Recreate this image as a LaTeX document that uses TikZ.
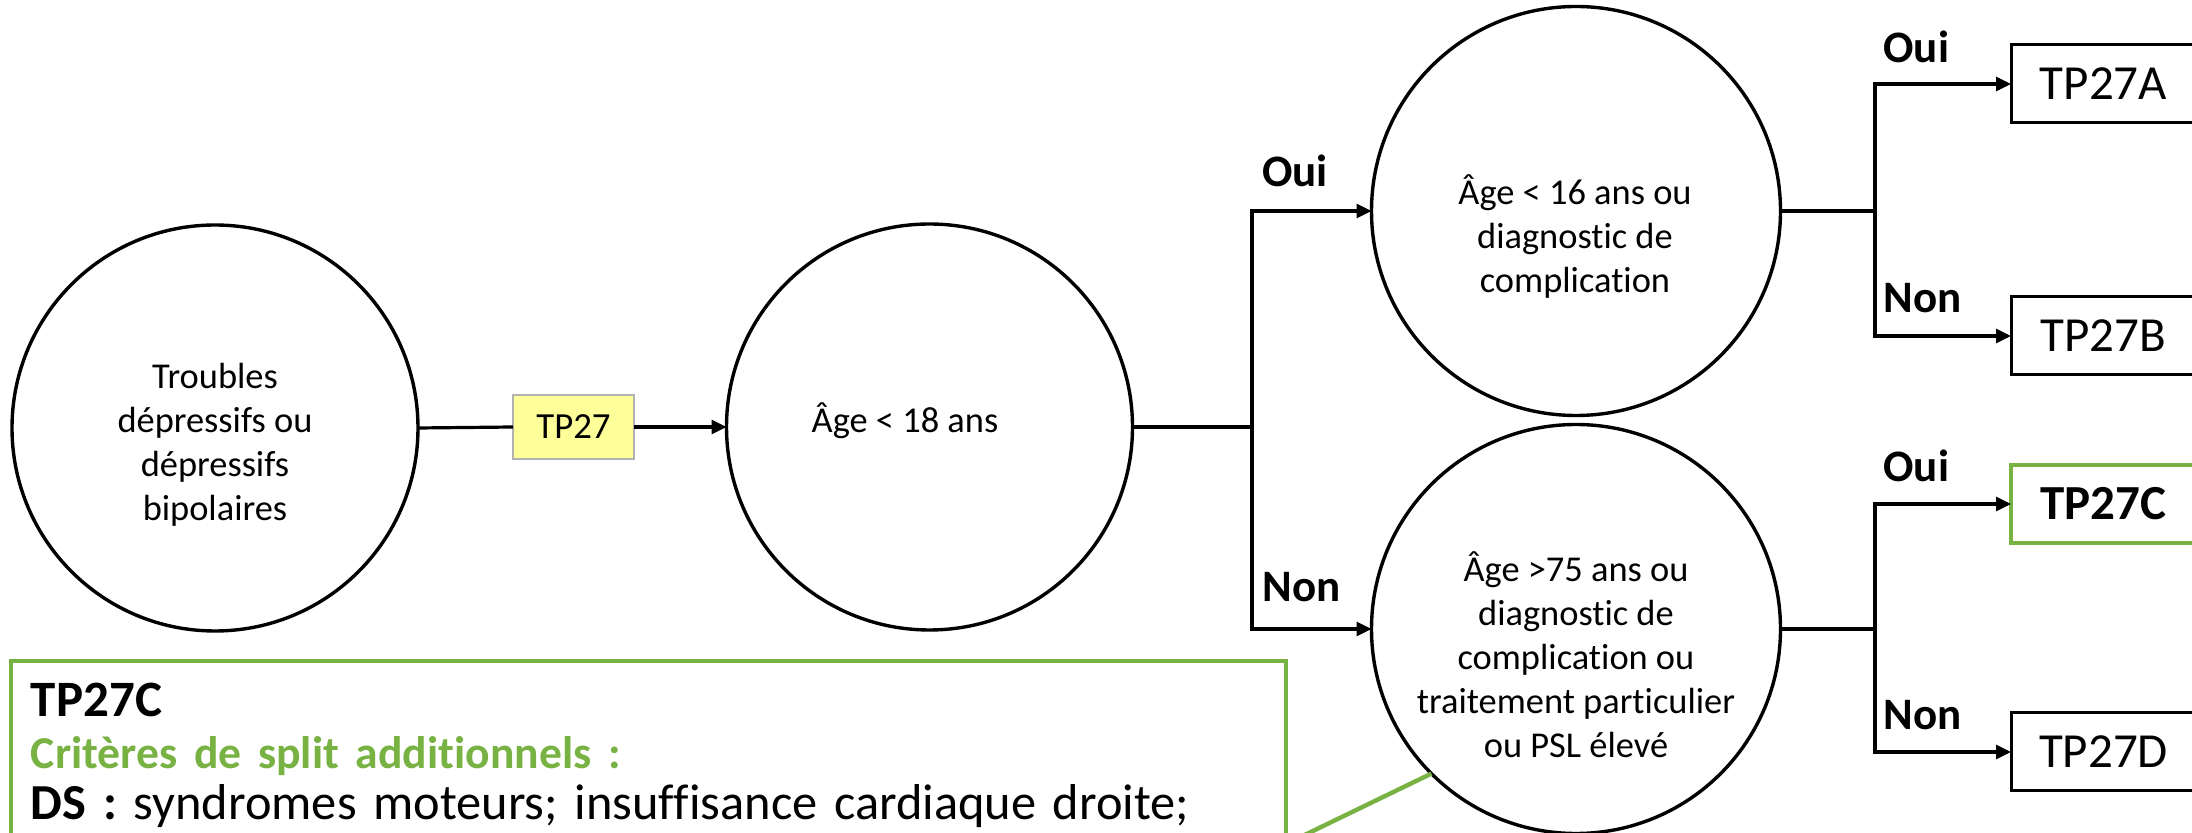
\documentclass[tikz,border=0pt]{standalone}
\usepackage{fontspec}
\setmainfont{Carlito}[Ligatures=NoCommon]
\newfontfamily\notefont{Carlito}[Ligatures=NoCommon,WordSpace=0.75]
\usetikzlibrary{arrows.meta}
\definecolor{gr}{HTML}{78B243}
\definecolor{yel}{HTML}{FFFF99}
\begin{document}
\begin{tikzpicture}[x=0.5pt,y=-0.5pt,
  circ/.style={circle,draw,line width=1.7pt,inner sep=0pt,outer sep=0pt},
  ctext/.style={font=\fontsize{18.2}{22}\selectfont,align=center,inner sep=0pt},
  lab/.style={font=\fontsize{22.5}{27}\selectfont\bfseries,anchor=base west,inner sep=0pt},
  outbox/.style={draw,line width=1.5pt,minimum width=92.5pt,minimum height=39pt,anchor=west,outer sep=0pt,inner sep=0pt,font=\fontsize{24.5}{29}\selectfont},
  conn/.style={line width=1.6pt},
  arr/.style={conn,-{Triangle[length=7.5pt,width=7pt]}}
]
\clip (0,0) rectangle (2192,833);
\fill[white] (0,0) rectangle (2192,833);

% circles
\node[circ,minimum size=203pt] (c1) at (215,428) {};
\node[ctext] (t1) at (215,445) {Troubles\\dépressifs ou\\dépressifs\\bipolaires};
\node[circ,minimum size=203pt] (c2) at (929.5,427) {};
\node[ctext,anchor=base] (t2) at (905,433) {Âge < 18 ans};
\node[circ,minimum size=204.5pt] (c3) at (1576,211) {};
\node[ctext] (t3) at (1575,237) {Âge < 16 ans ou\\diagnostic de\\complication};
\node[circ,minimum size=204.5pt] (c4) at (1576,629) {};
\node[ctext] (t4) at (1576,655) {Âge >75 ans ou\\diagnostic de\\complication ou\\traitement particulier\\ou PSL élevé};

% yellow box
\node[draw=gray!60,fill=yel,line width=1pt,minimum width=60.5pt,minimum height=32pt,inner sep=0pt,outer sep=0pt,font=\fontsize{18.4}{22}\selectfont] (tp) at (573.5,427) {TP27};

% output boxes
\node[outbox] (A) at (2011,84) {TP27A};
\node[outbox] (B) at (2011,336) {TP27B};
\node[outbox,draw=gr,line width=2.3pt,font=\fontsize{24.5}{29}\selectfont\bfseries] (C) at (2011,504) {TP27C};
\node[outbox] (D) at (2011,752) {TP27D};

% connectors
\draw[conn] (c1.east) -- (tp.west);
\draw[arr] (tp.east) -- (c2.west);
\coordinate (j1) at (1252,427);
\draw[conn] (c2.east) -- (j1);
\draw[arr] (j1) |- (c3.west);
\draw[arr] (j1) |- (c4.west);
\coordinate (j2) at (1875,211);
\draw[conn] (c3.east) -- (j2);
\draw[arr] (j2) |- (A.west);
\draw[arr] (j2) |- (B.west);
\coordinate (j3) at (1875,629);
\draw[conn] (c4.east) -- (j3);
\draw[arr] (j3) |- (C.west);
\draw[arr] (j3) |- (D.west);

% labels
\node[lab] (lo1) at (1262,187) {Oui};
\node[lab] (ln1) at (1262,602) {Non};
\node[lab] (lo2) at (1883,63) {Oui};
\node[lab] (ln2) at (1883,313) {Non};
\node[lab] (lo3) at (1883,482) {Oui};
\node[lab] (ln3) at (1883,730) {Non};

% green note box
\node[draw=gr,line width=2.3pt,anchor=north west,outer sep=0pt,text width=617.5pt,inner xsep=10pt,inner ysep=11pt,align=left,font=\notefont\fontsize{25}{25.8}\selectfont] (gbox) at (11,661)
  {{\fontsize{25.5}{25.8}\selectfont\textbf{TP27C}}\\
   {\fontsize{22.8}{25.8}\selectfont\textcolor{gr}{\textbf{Critères de split additionnels :}}}\\
   {\fontsize{25.2}{25.8}\selectfont\textbf{DS :} syndromes moteurs; insuffisance cardiaque droite;}};
\coordinate (gend) at (1286,844);
\draw[gr,line width=2.2pt] (c4.225) -- (gend);
\end{tikzpicture}
\end{document}
